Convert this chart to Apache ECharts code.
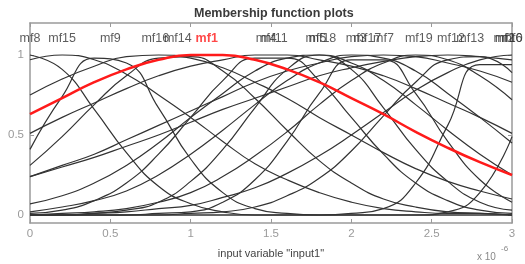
<!DOCTYPE html>
<html>
<head>
<meta charset="utf-8">
<script src="https://cdn.jsdelivr.net/npm/echarts@6/dist/echarts.min.js"></script>
<style>
  html, body { margin: 0; padding: 0; background: #fff; }
  #chart { width: 525px; height: 264px; }
</style>
</head>
<body>
<div id="chart"></div>
<script>
// x positions (units of 1e-6)
const xs = [0, 0.2, 0.4, 0.6, 0.8, 1.0, 1.2, 1.4, 1.6, 1.8, 2.0, 2.2, 2.4, 2.6, 2.8, 3.0];

// membership degrees at each x
const mf8  = [1.00, 0.91, 0.66, 0.39, 0.18, 0.07, 0.02, 0, 0, 0, 0, 0, 0, 0, 0, 0];
const mf15 = [0.97, 1.00, 0.97, 0.88, 0.75, 0.61, 0.46, 0.32, 0.22, 0.14, 0.08, 0.04, 0.02, 0.01, 0.01, 0];
const mf9  = [0.41, 0.74, 0.98, 0.95, 0.67, 0.35, 0.14, 0.04, 0.01, 0, 0, 0, 0, 0, 0, 0];
const mf16 = [0.75, 0.85, 0.93, 0.99, 1.00, 0.98, 0.92, 0.83, 0.73, 0.61, 0.50, 0.39, 0.29, 0.21, 0.15, 0.10];
const mf14 = [0.31, 0.49, 0.69, 0.87, 0.98, 0.99, 0.90, 0.73, 0.53, 0.34, 0.20, 0.10, 0.05, 0.02, 0.01, 0];
const mf1  = [0.63, 0.73, 0.83, 0.91, 0.97, 1.00, 1.00, 0.97, 0.91, 0.83, 0.73, 0.63, 0.52, 0.42, 0.33, 0.25];
const mf4  = [0.01, 0.03, 0.09, 0.20, 0.38, 0.61, 0.84, 0.98, 0.98, 0.84, 0.61, 0.38, 0.20, 0.09, 0.03, 0.01];
const mf11 = [0.51, 0.61, 0.70, 0.79, 0.87, 0.93, 0.97, 1.00, 1.00, 0.97, 0.93, 0.87, 0.79, 0.70, 0.61, 0.51];
const mf5  = [0, 0, 0.01, 0.03, 0.08, 0.21, 0.41, 0.67, 0.91, 1.00, 0.91, 0.67, 0.41, 0.21, 0.08, 0.03];
const mf18 = [0.07, 0.12, 0.20, 0.31, 0.45, 0.61, 0.76, 0.90, 0.98, 1.00, 0.95, 0.84, 0.69, 0.53, 0.38, 0.25];
const mf3  = [0.02, 0.05, 0.09, 0.15, 0.25, 0.38, 0.53, 0.69, 0.84, 0.95, 1.00, 0.98, 0.90, 0.76, 0.61, 0.45];
const mf17 = [0, 0, 0, 0, 0.01, 0.02, 0.08, 0.22, 0.46, 0.76, 0.97, 0.97, 0.76, 0.46, 0.22, 0.08];
const mf7  = [0.24, 0.31, 0.38, 0.47, 0.56, 0.65, 0.74, 0.83, 0.90, 0.95, 0.99, 1.00, 0.99, 0.95, 0.90, 0.83];
const mf19 = [0, 0.01, 0.02, 0.04, 0.08, 0.14, 0.24, 0.37, 0.52, 0.69, 0.84, 0.95, 1.00, 0.97, 0.87, 0.72];
const mf12 = [0.24, 0.30, 0.36, 0.43, 0.50, 0.58, 0.66, 0.73, 0.80, 0.87, 0.92, 0.96, 0.99, 1.00, 0.99, 0.97];
const mf13 = [0, 0, 0, 0, 0, 0.01, 0.02, 0.05, 0.12, 0.23, 0.40, 0.62, 0.83, 0.97, 0.99, 0.89];
const mf2  = [0, 0, 0, 0, 0, 0, 0, 0, 0, 0, 0.01, 0.04, 0.20, 0.56, 0.94, 0.94];
const mf6  = [0, 0, 0, 0, 0, 0, 0, 0, 0, 0, 0, 0, 0, 0.02, 0.14, 0.49];
const mf10 = [0, 0, 0.01, 0.02, 0.04, 0.06, 0.11, 0.17, 0.26, 0.37, 0.50, 0.64, 0.78, 0.89, 0.97, 1.00];

// mf name labels and where they sit along x
const mfNames  = ["mf8", "mf15", "mf9", "mf16", "mf14", "mf1", "mf4", "mf11", "mf5", "mf18",
                  "mf3", "mf17", "mf7", "mf19", "mf12", "mf13", "mf2", "mf6", "mf10"];
const mfLabelX = [0, 0.2, 0.5, 0.78, 0.92, 1.1, 1.47, 1.52, 1.78, 1.82,
                  2.03, 2.1, 2.2, 2.42, 2.62, 2.74, 2.95, 3.0, 2.98];
const selected = "mf1";

const curves = { mf8, mf15, mf9, mf16, mf14, mf1, mf4, mf11, mf5, mf18,
                 mf3, mf17, mf7, mf19, mf12, mf13, mf2, mf6, mf10 };

const yTicks = [0, 0.5, 1];

const boxColor = "#9a9a9a";

const lineSeries = mfNames.map((name) => {
  const isSel = name === selected;
  return {
    name: name,
    type: "line",
    data: xs.map((x, i) => [x, curves[name][i]]),
    smooth: true,
    symbol: "none",
    z: isSel ? 5 : 2,
    lineStyle: { color: isSel ? "#ff1a1a" : "#333", width: isSel ? 2.5 : 1.2 },
    silent: true,
  };
});

const labelSeries = {
  type: "scatter",
  symbolSize: 1,
  itemStyle: { color: "rgba(0,0,0,0)" },
  z: 6,
  data: mfNames.map((name, i) => ({
    name: name,
    value: [mfLabelX[i], 1.1],
    label: {
      show: true,
      position: "inside",
      formatter: "{b}",
      fontFamily: "Liberation Sans",
      fontSize: 12.5,
      fontWeight: name === selected ? "bold" : "normal",
      color: name === selected ? "#ff1a1a" : "#333",
    },
  })),
};

const chart = echarts.init(document.getElementById("chart"), null, { renderer: "canvas" });

const option = {
  animation: false,
  backgroundColor: "#fff",
  title: {
    text: "Membership function plots",
    left: 189,
    top: 2,
    textStyle: { fontFamily: "Liberation Sans", fontSize: 12.5, fontWeight: "bold", color: "#3a3a3a" },
  },
  grid: { left: 30, right: 13, top: 23, bottom: 39, containLabel: false },
  xAxis: [
    {
      type: "value",
      position: "bottom",
      min: 0,
      max: 3,
      interval: 0.5,
      name: 'input variable "input1"',
      nameLocation: "middle",
      nameGap: 25,
      nameTextStyle: { fontFamily: "Liberation Sans", fontSize: 11, color: "#444" },
      axisLine: { onZero: false, lineStyle: { color: boxColor, width: 1.5 } },
      axisTick: { inside: true, length: 4, lineStyle: { color: boxColor } },
      axisLabel: { margin: 5, fontFamily: "Liberation Sans", fontSize: 11.5, color: "#9a9a9a" },
      splitLine: { show: false },
    },
    {
      type: "value",
      position: "top",
      min: 0,
      max: 3,
      interval: 0.5,
      axisLine: { onZero: false, lineStyle: { color: boxColor, width: 1.5 } },
      axisTick: { inside: true, length: 4, lineStyle: { color: boxColor } },
      axisLabel: { show: false },
      splitLine: { show: false },
    },
  ],
  yAxis: [
    {
      type: "value",
      position: "left",
      min: -0.05,
      max: 1.2,
      axisLine: { show: true, onZero: false, lineStyle: { color: boxColor, width: 1.5 } },
      axisTick: { show: true, inside: true, length: 4, customValues: yTicks, lineStyle: { color: boxColor } },
      axisLabel: { customValues: yTicks, margin: 6, fontFamily: "Liberation Sans", fontSize: 11.5, color: "#9a9a9a" },
      splitLine: { show: false },
    },
    {
      type: "value",
      position: "right",
      min: -0.05,
      max: 1.2,
      axisLine: { show: true, onZero: false, lineStyle: { color: boxColor, width: 1.5 } },
      axisTick: { show: true, inside: true, length: 4, customValues: yTicks, lineStyle: { color: boxColor } },
      axisLabel: { show: false },
      splitLine: { show: false },
    },
  ],
  graphic: [
    { type: "text", left: 477, top: 252, style: { text: "x 10", font: "10px Liberation Sans", fill: "#888" } },
    { type: "text", left: 501, top: 245, style: { text: "-6", font: "8px Liberation Sans", fill: "#888" } },
  ],
  series: [...lineSeries, labelSeries],
};

chart.setOption(option);
</script>
</body>
</html>
